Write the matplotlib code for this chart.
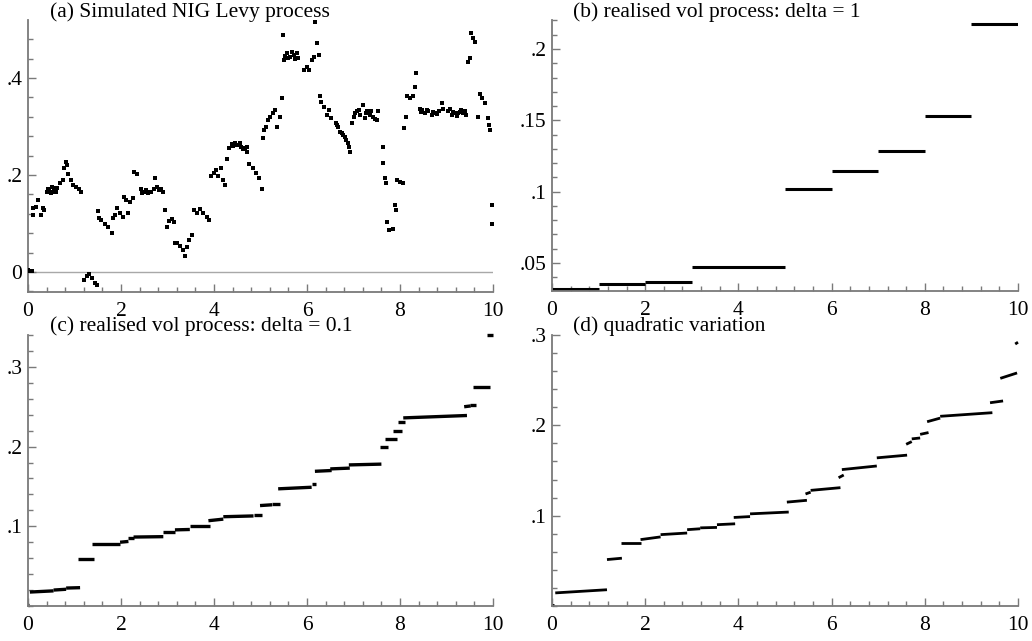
import matplotlib
matplotlib.use('Agg')
import matplotlib.pyplot as plt
from matplotlib.ticker import MultipleLocator, FuncFormatter

plt.rcParams['font.family'] = ['Liberation Serif', 'DejaVu Serif']
plt.rcParams['font.size'] = 15.5

# (a) simulated NIG Levy process
a_t = [0.00, 0.04, 0.08, 0.10, 0.115, 0.17, 0.22, 0.27, 0.32, 0.35,
       0.40, 0.43, 0.46, 0.49, 0.51, 0.545, 0.56, 0.58, 0.61, 0.63,
       0.69, 0.75, 0.77, 0.81, 0.83, 0.87, 0.92, 0.975, 1.03, 1.10,
       1.15, 1.20, 1.26, 1.32, 1.37, 1.44, 1.49, 1.51, 1.53, 1.58,
       1.66, 1.73, 1.80, 1.835, 1.87, 1.92, 1.98, 2.04, 2.06, 2.11,
       2.16, 2.19, 2.25, 2.29, 2.34, 2.42, 2.45, 2.49, 2.53, 2.57,
       2.60, 2.64, 2.70, 2.73, 2.77, 2.82, 2.86, 2.90, 2.95, 2.98,
       3.03, 3.09, 3.14, 3.16, 3.21, 3.27, 3.33, 3.38, 3.43, 3.47,
       3.52, 3.57, 3.64, 3.70, 3.77, 3.84, 3.90, 3.94, 3.99, 4.04,
       4.09, 4.14, 4.19, 4.24, 4.27, 4.33, 4.38, 4.41, 4.45, 4.48,
       4.52, 4.56, 4.59, 4.63, 4.67, 4.70, 4.72, 4.76, 4.83, 4.90,
       4.97, 5.04, 5.06, 5.08, 5.12, 5.17, 5.20, 5.26, 5.31, 5.35,
       5.42, 5.46, 5.49, 5.50, 5.53, 5.57, 5.60, 5.64, 5.67, 5.72,
       5.75, 5.78, 5.81, 5.94, 5.99, 6.05, 6.10, 6.14, 6.17, 6.21,
       6.25, 6.28, 6.30, 6.36, 6.42, 6.48, 6.51, 6.62, 6.65, 6.67,
       6.72, 6.75, 6.78, 6.81, 6.84, 6.88, 6.91, 6.93, 6.96, 7.01,
       7.04, 7.07, 7.11, 7.14, 7.20, 7.25, 7.27, 7.30, 7.35, 7.38,
       7.42, 7.46, 7.50, 7.53, 7.63, 7.64, 7.68, 7.70, 7.71, 7.77,
       7.84, 7.89, 7.91, 7.93, 8.00, 8.06, 8.09, 8.13, 8.16, 8.22,
       8.29, 8.32, 8.34, 8.42, 8.45, 8.47, 8.54, 8.57, 8.61, 8.68,
       8.72, 8.75, 8.80, 8.83, 8.90, 8.93, 9.04, 9.07, 9.11, 9.15,
       9.18, 9.22, 9.25, 9.29, 9.32, 9.36, 9.39, 9.43, 9.47, 9.50,
       9.52, 9.56, 9.61, 9.68, 9.73, 9.77, 9.82, 9.89, 9.91, 9.93,
       9.97, 9.98]
a_y = [0.004, 0.003, 0.002, 0.118, 0.131, 0.135, 0.148, 0.118, 0.131, 0.128,
       0.166, 0.172, 0.169, 0.162, 0.176, 0.166, 0.174, 0.169, 0.165, 0.173,
       0.183, 0.190, 0.214, 0.227, 0.220, 0.203, 0.190, 0.179, 0.175, 0.172,
       0.164, -0.016, -0.008, -0.004, -0.013, -0.022, -0.027, 0.126, 0.111, 0.107,
       0.099, 0.093, 0.081, 0.111, 0.118, 0.131, 0.121, 0.114, 0.155, 0.148,
       0.121, 0.145, 0.152, 0.207, 0.203, 0.172, 0.163, 0.166, 0.170, 0.162,
       0.165, 0.166, 0.172, 0.193, 0.176, 0.169, 0.172, 0.166, 0.128, 0.093,
       0.106, 0.109, 0.104, 0.059, 0.060, 0.054, 0.045, 0.032, 0.051, 0.065,
       0.076, 0.128, 0.121, 0.129, 0.121, 0.113, 0.107, 0.197, 0.205, 0.210,
       0.197, 0.214, 0.190, 0.179, 0.234, 0.255, 0.264, 0.260, 0.267, 0.262,
       0.262, 0.266, 0.258, 0.253, 0.255, 0.258, 0.248, 0.223, 0.214, 0.205,
       0.193, 0.172, 0.276, 0.293, 0.300, 0.313, 0.320, 0.327, 0.334, 0.300,
       0.320, 0.358, 0.489, 0.437, 0.445, 0.451, 0.441, 0.444, 0.454, 0.447,
       0.440, 0.451, 0.441, 0.416, 0.423, 0.416, 0.437, 0.444, 0.516, 0.473,
       0.447, 0.362, 0.351, 0.341, 0.324, 0.334, 0.317, 0.307, 0.303, 0.300,
       0.289, 0.286, 0.282, 0.278, 0.272, 0.265, 0.258, 0.248, 0.307, 0.320,
       0.327, 0.331, 0.335, 0.324, 0.344, 0.317, 0.327, 0.331, 0.324, 0.331,
       0.320, 0.315, 0.313, 0.331, 0.258, 0.224, 0.193, 0.183, 0.104, 0.087,
       0.088, 0.138, 0.128, 0.190, 0.186, 0.183, 0.296, 0.320, 0.362, 0.358,
       0.362, 0.382, 0.410, 0.337, 0.330, 0.334, 0.327, 0.335, 0.331, 0.324,
       0.330, 0.327, 0.325, 0.331, 0.348, 0.337, 0.331, 0.336, 0.324, 0.330,
       0.327, 0.322, 0.327, 0.330, 0.334, 0.327, 0.331, 0.324, 0.434, 0.441,
       0.492, 0.482, 0.475, 0.320, 0.368, 0.358, 0.348, 0.317, 0.303, 0.293,
       0.138, 0.100]

# (b) realised vol, delta = 1
b_start = [0, 1, 2, 3, 5, 6, 7, 8, 9]
b_end = [1, 2, 3, 5, 6, 7, 8, 9, 10]
b_val = [0.0316, 0.0351, 0.0365, 0.047, 0.1017, 0.1143, 0.1283, 0.1533, 0.2173]

# (c) realised vol, delta = 0.1  (start, end, value at start, value at end)
c_t0 = [0.0, 0.04, 0.55, 0.82, 1.08, 1.37, 1.98, 2.16, 2.27, 2.91, 3.16, 3.48,
        3.88, 4.20, 4.85, 4.99, 5.25, 5.38, 6.10, 6.17, 6.50, 6.90, 7.57, 7.68,
        7.86, 7.96, 8.07, 9.38, 9.50, 9.57, 9.88]
c_t1 = [0.03, 0.55, 0.82, 1.12, 1.42, 1.98, 2.16, 2.27, 2.91, 3.16, 3.48, 3.91,
        4.20, 4.85, 5.03, 5.25, 5.42, 6.10, 6.20, 6.53, 6.92, 7.60, 7.75, 7.93,
        8.04, 8.11, 9.44, 9.52, 9.63, 9.94, 10.0]
c_v0 = [0.001, 0.0175, 0.020, 0.0225, 0.059, 0.078, 0.080, 0.085, 0.0865, 0.093,
        0.0955, 0.100, 0.107, 0.112, 0.1145, 0.126, 0.128, 0.147, 0.153, 0.169,
        0.172, 0.177, 0.199, 0.209, 0.220, 0.231, 0.236, 0.250, 0.252, 0.275, 0.340]
c_v1 = [0.001, 0.019, 0.021, 0.023, 0.059, 0.078, 0.081, 0.085, 0.087, 0.093,
        0.096, 0.100, 0.109, 0.113, 0.1145, 0.127, 0.128, 0.149, 0.153, 0.170,
        0.173, 0.178, 0.199, 0.209, 0.220, 0.231, 0.239, 0.251, 0.252, 0.275, 0.340]

# (d) quadratic variation
d_t0 = [0.0, 0.07, 1.18, 1.47, 1.90, 2.33, 2.90, 3.18, 3.54, 3.90, 4.25, 5.04,
        5.44, 5.55, 6.15, 6.22, 6.97, 7.60, 7.72, 7.90, 8.05, 8.33, 9.40, 9.62, 9.94]
d_t1 = [0.04, 1.18, 1.50, 1.90, 2.33, 2.90, 3.18, 3.54, 3.93, 4.25, 5.08, 5.47,
        5.55, 6.19, 6.26, 6.97, 7.62, 7.72, 7.90, 8.08, 8.33, 9.45, 9.68, 9.98, 10.0]
d_v0 = [0.001, 0.0145, 0.0514, 0.070, 0.0735, 0.079, 0.0845, 0.0865, 0.090, 0.098,
        0.102, 0.115, 0.124, 0.128, 0.142, 0.151, 0.164, 0.179, 0.185, 0.190,
        0.204, 0.210, 0.225, 0.252, 0.290]
d_v1 = [0.001, 0.018, 0.0529, 0.070, 0.0765, 0.0808, 0.0855, 0.087, 0.091, 0.099,
        0.104, 0.117, 0.126, 0.131, 0.145, 0.155, 0.167, 0.182, 0.186, 0.192,
        0.208, 0.214, 0.227, 0.258, 0.292]

titles = ['(a) Simulated NIG Levy process',
          '(b) realised vol process: delta = 1',
          '(c) realised vol process: delta = 0.1',
          '(d) quadratic variation']

W, H = 1032, 641
SPINE = '#7a7a7a'


def no_lead_zero(v, pos):
    s = '%g' % round(v, 6)
    return s.replace('0.', '.')


def style(ax, ylo, yhi, majors, minor):
    ax.set_xlim(0, 10)
    for side in ['top', 'right']:
        ax.spines[side].set_visible(False)
    for side in ['left', 'bottom']:
        ax.spines[side].set_color(SPINE)
        ax.spines[side].set_linewidth(1.3)
    ax.set_xticks([0, 2, 4, 6, 8, 10])
    ax.xaxis.set_minor_locator(MultipleLocator(0.4))
    ax.set_yticks(majors)
    ax.yaxis.set_minor_locator(MultipleLocator(minor))
    ax.xaxis.set_major_formatter(FuncFormatter(no_lead_zero))
    ax.yaxis.set_major_formatter(FuncFormatter(no_lead_zero))
    ax.tick_params(which='both', direction='in', color=SPINE, width=1)
    ax.tick_params(which='major', length=6)
    ax.tick_params(which='minor', length=3.5)
    ax.tick_params(axis='x', which='major', pad=7)
    ax.tick_params(axis='y', which='major', pad=4)
    ax.set_ylim(ylo, yhi)


def box(left, top, right, bottom):
    return [left / W, 1 - bottom / H, (right - left) / W, (bottom - top) / H]


fig = plt.figure(figsize=(10.32, 6.41), dpi=100)
ax_a = fig.add_axes(box(28, 20, 493, 292))
ax_b = fig.add_axes(box(552, 20, 1018, 291))
ax_c = fig.add_axes(box(28, 335, 493, 606))
ax_d = fig.add_axes(box(552, 335, 1018, 606))

# (a)
ax_a.axhline(0, color='#a8a8a8', lw=1, zorder=1)
ax_a.plot(a_t, a_y, 's', color='black', markersize=3, markeredgewidth=0, zorder=3)
style(ax_a, -0.0412, 0.5196, [0, 0.2, 0.4], 0.04)

# (b)
for t0, t1, v in zip(b_start, b_end, b_val):
    ax_b.plot([t0, t1], [v, v], color='black', lw=2.2, solid_capstyle='butt')
style(ax_b, 0.0304, 0.2203, [0.05, 0.1, 0.15, 0.2], 0.01)

# (c)
for t0, t1, v0, v1 in zip(c_t0, c_t1, c_v0, c_v1):
    ax_c.plot([t0, t1], [v0, v1], color='black', lw=2.4, solid_capstyle='butt', clip_on=False)
style(ax_c, 0, 0.34, [0.1, 0.2, 0.3], 0.02)

# (d)
for t0, t1, v0, v1 in zip(d_t0, d_t1, d_v0, d_v1):
    ax_d.plot([t0, t1], [v0, v1], color='black', lw=2.0, solid_capstyle='butt', clip_on=False)
style(ax_d, 0, 0.3, [0.1, 0.2, 0.3], 0.02)

# panel titles sit just above each plotting area
for (x, y), text in zip([(50, 12), (573, 12), (50, 326), (573, 326)], titles):
    fig.text(x / W, 1 - y / H, text, ha='left', va='center')

fig.savefig('out.png', dpi=100)
